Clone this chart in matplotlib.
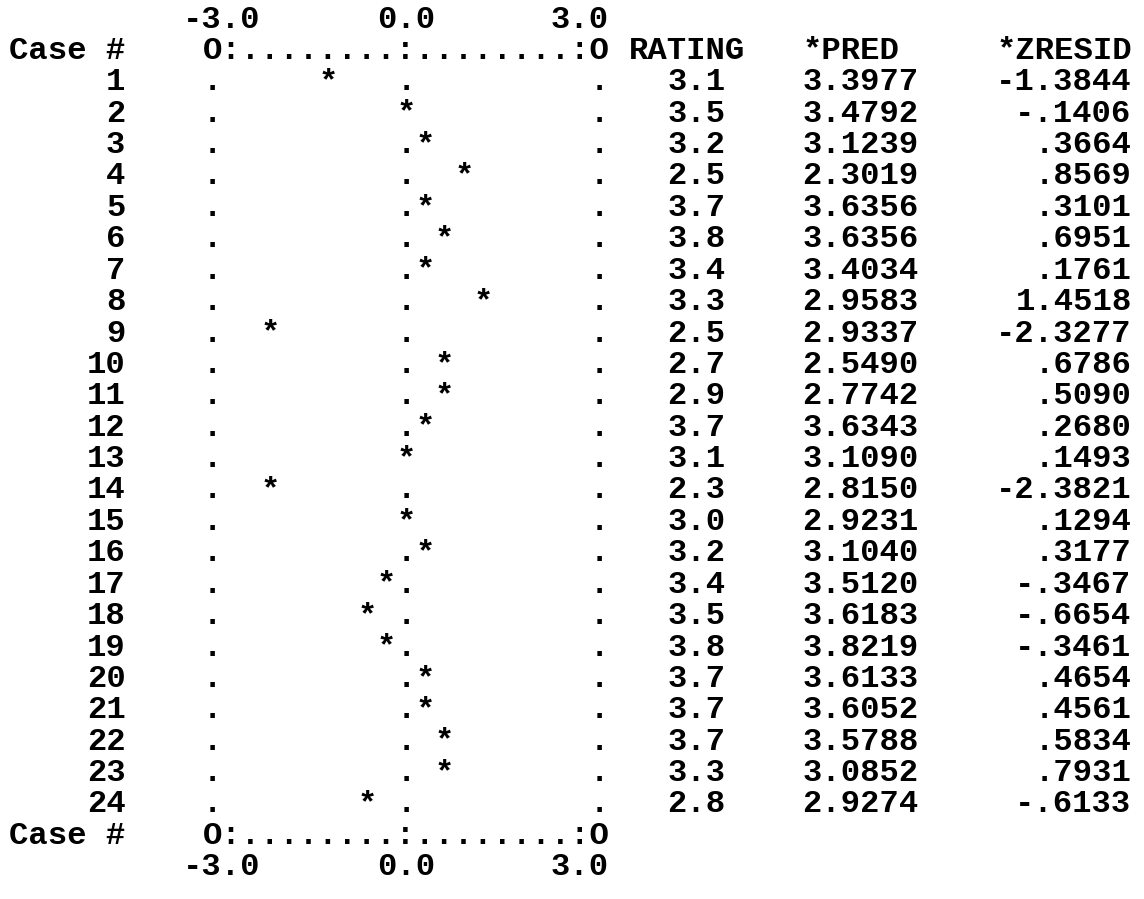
import matplotlib
matplotlib.use('Agg')
import matplotlib.pyplot as plt

plt.rcParams['font.family'] = 'Liberation Mono'

# casewise plot data
cases = list(range(1, 25))
rating = [3.1, 3.5, 3.2, 2.5, 3.7, 3.8, 3.4, 3.3, 2.5, 2.7, 2.9, 3.7,
          3.1, 2.3, 3.0, 3.2, 3.4, 3.5, 3.8, 3.7, 3.7, 3.7, 3.3, 2.8]
pred = [3.3977, 3.4792, 3.1239, 2.3019, 3.6356, 3.6356, 3.4034, 2.9583,
        2.9337, 2.5490, 2.7742, 3.6343, 3.1090, 2.8150, 2.9231, 3.1040,
        3.5120, 3.6183, 3.8219, 3.6133, 3.6052, 3.5788, 3.0852, 2.9274]
zresid = [-1.3844, -.1406, .3664, .8569, .3101, .6951, .1761, 1.4518,
          -2.3277, .6786, .5090, .2680, .1493, -2.3821, .1294, .3177,
          -.3467, -.6654, -.3461, .4654, .4561, .5834, .7931, -.6133]
scale_values = [-3.0, 0.0, 3.0]
scale_labels = ['-3.0', '0.0', '3.0']
headers = ['RATING', '*PRED', '*ZRESID']

W, H, dpi = 1144, 899, 100
cw = 19.35      # character width, px
lh = 31.4       # line height, px
x0 = 19         # centre of column 0, px
y0 = 16.5       # centre of line 0, px
fs = cw / 0.6 * 72 / dpi
base = 11.0 / lh

fig = plt.figure(figsize=(W / dpi, H / dpi), dpi=dpi)
ax = fig.add_axes([0, 0, 1, 1])
ax.set_xlim(-x0 / cw, (W - x0) / cw)
ax.set_ylim((H - y0) / lh, -y0 / lh)
ax.axis('off')


def put(col, line, s, right=False):
    # col is first char column (left) or last char column (right)
    x = col + 0.5 if right else col - 0.5
    ax.text(x, line + base, s, ha='right' if right else 'left',
            va='baseline', fontsize=fs, fontweight='bold', color='black')


# plot strip: -3..3 over columns 11..29, outlier "O" at 10 and 30
mid_col = 20
per_unit = 3


def zcol(z):
    return mid_col + int(round(z * per_unit))


left_o = zcol(scale_values[0]) - 1
right_o = zcol(scale_values[-1]) + 1
frame = 'O:' + '.' * (mid_col - left_o - 2) + ':' + '.' * (right_o - mid_col - 2) + ':O'

first_row = 2
last_line = first_row + len(cases)

for line in (1, last_line):
    put(0, line, 'Case #')
    put(left_o, line, frame)

for line in (0, last_line + 1):
    for v, lab in zip(scale_values, scale_labels):
        # labels end one column past the tick column
        put(zcol(v) + 1, line, lab, right=True)

# column headings
rating_col, pred_col, z_col = 32, 41, 51
put(rating_col, 1, headers[0])
put(pred_col, 1, headers[1])
put(z_col, 1, headers[2])

for i, c in enumerate(cases):
    line = first_row + i
    put(5, line, str(c), right=True)
    star = zcol(zresid[i])
    for col in (left_o, mid_col, right_o):
        if col != star:
            put(col, line, '.')
    put(star, line, '*')
    put(rating_col + 4, line, f'{rating[i]:.1f}', right=True)
    put(pred_col + 5, line, f'{pred[i]:.4f}', right=True)
    zs = f'{zresid[i]:.4f}'.replace('0.', '.', 1) if abs(zresid[i]) < 1 else f'{zresid[i]:.4f}'
    put(z_col + 6, line, zs, right=True)

fig.savefig('out.png', dpi=dpi, facecolor='white')
